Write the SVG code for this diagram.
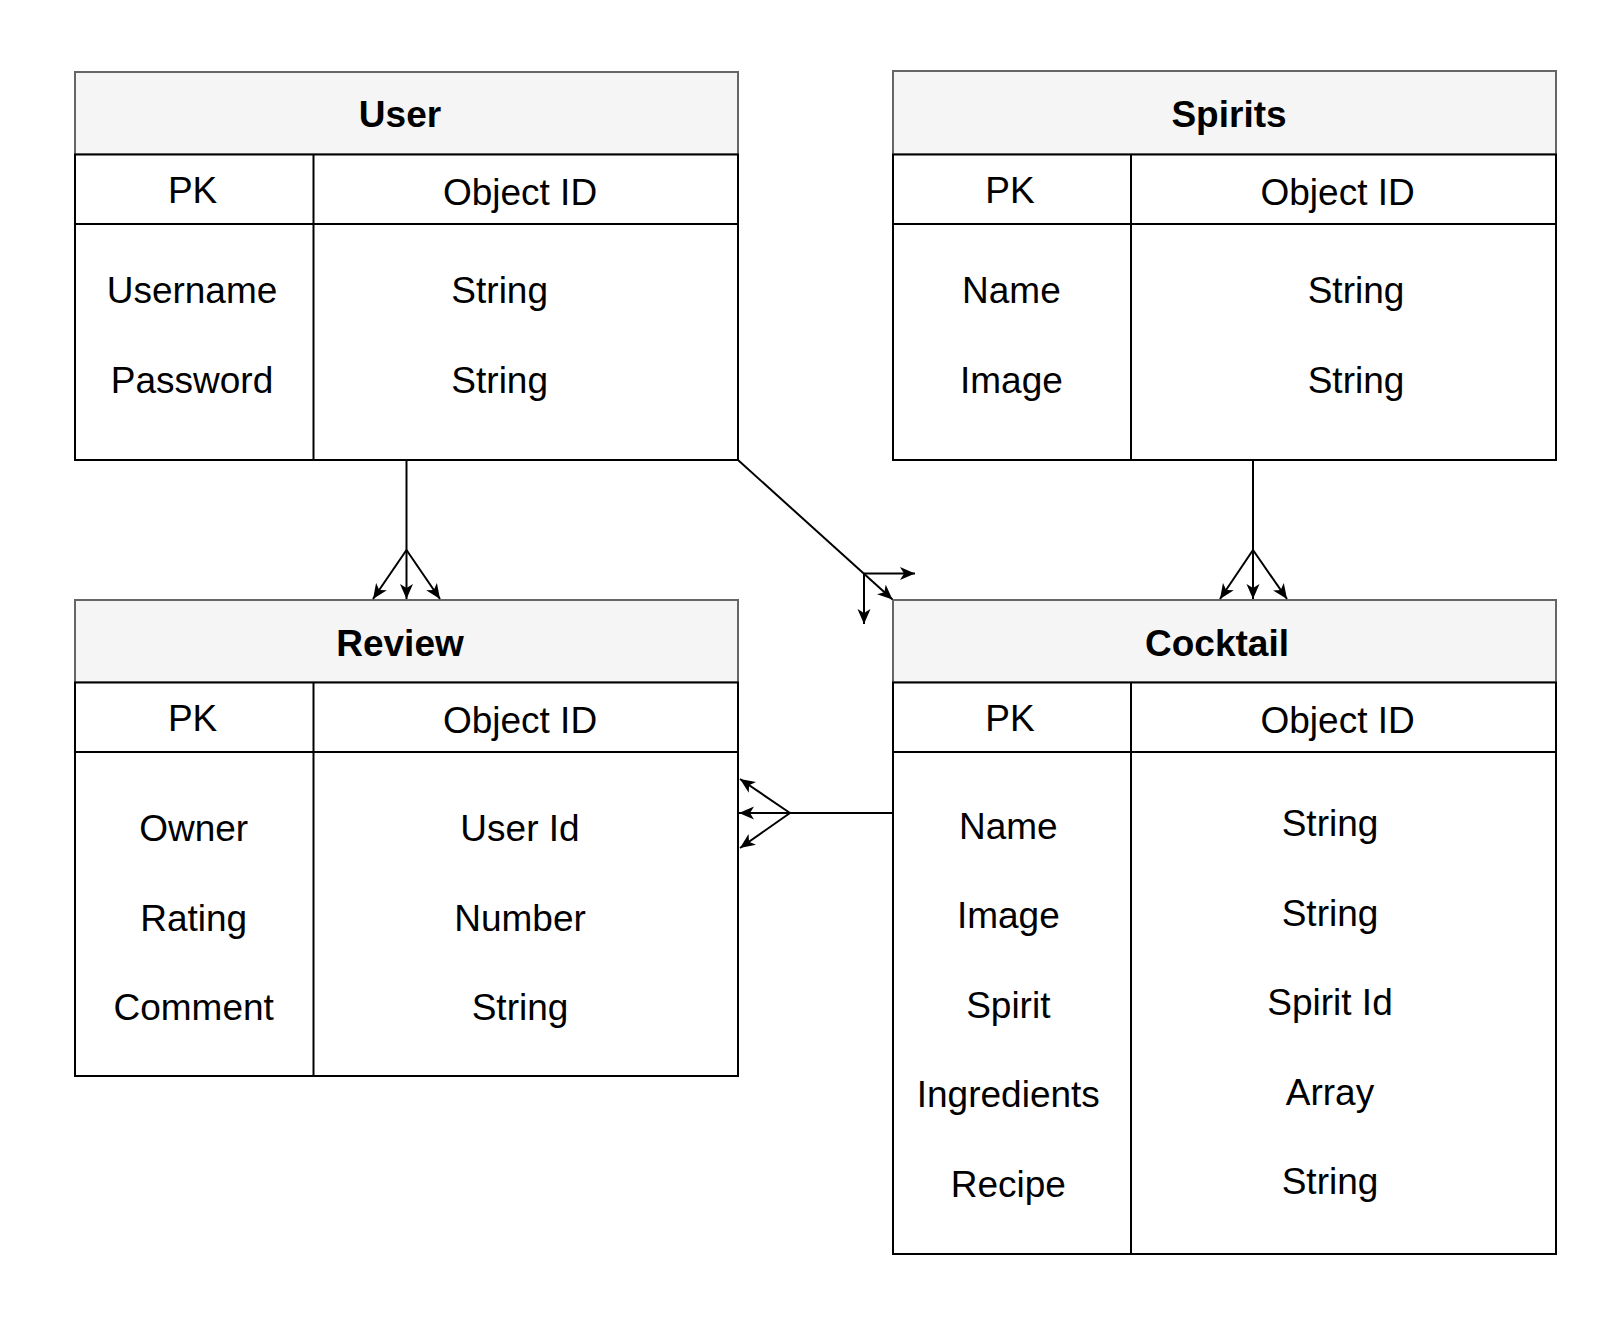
<svg xmlns="http://www.w3.org/2000/svg" width="1624" height="1320" viewBox="0 0 1624 1320">
<style>
.hdr{fill:#f5f5f5;stroke:#666666;stroke-width:2}
.body{fill:#ffffff;stroke:#000000;stroke-width:2}
.ln{stroke:#000000;stroke-width:2;fill:none}
text{font-family:"Liberation Sans",Arial,Helvetica,sans-serif;font-size:37px;fill:#000000;text-anchor:middle}
.title{font-weight:bold}
.edge{stroke:#000000;stroke-width:2;fill:none}
.arr{marker-end:url(#arrow)}
</style>
<defs>
<marker id="arrow" markerUnits="userSpaceOnUse" markerWidth="16" markerHeight="14" refX="15" refY="7" orient="auto" viewBox="0 0 16 14">
<path d="M0,0.5 L15,7 L0,13.5 L4,7 Z" fill="#000000"/>
</marker>
</defs>

<g id="user">
<rect class="hdr" x="75" y="72" width="663" height="82.5"/>
<rect class="body" x="75" y="154.5" width="663" height="305.5"/>
<line class="ln" x1="75" y1="224" x2="738" y2="224"/>
<line class="ln" x1="313.5" y1="154.5" x2="313.5" y2="460"/>
<text class="title" x="400" y="127">User</text>
<text x="192.6" y="202.5">PK</text>
<text x="520" y="205">Object ID</text>
<text x="192" y="303">Username</text>
<text x="192" y="392.5">Password</text>
<text x="499.7" y="303">String</text>
<text x="499.7" y="392.5">String</text>
</g>

<g id="spirits">
<rect class="hdr" x="893" y="71" width="663" height="83.5"/>
<rect class="body" x="893" y="154.5" width="663" height="305.5"/>
<line class="ln" x1="893" y1="224" x2="1556" y2="224"/>
<line class="ln" x1="1131" y1="154.5" x2="1131" y2="460"/>
<text class="title" x="1229" y="127">Spirits</text>
<text x="1010" y="202.5">PK</text>
<text x="1337.6" y="205">Object ID</text>
<text x="1011.4" y="303">Name</text>
<text x="1011.4" y="392.5">Image</text>
<text x="1356" y="303">String</text>
<text x="1356" y="392.5">String</text>
</g>

<g id="review">
<rect class="hdr" x="75" y="600" width="663" height="82.5"/>
<rect class="body" x="75" y="682.5" width="663" height="393.5"/>
<line class="ln" x1="75" y1="752" x2="738" y2="752"/>
<line class="ln" x1="313.5" y1="682.5" x2="313.5" y2="1076"/>
<text class="title" x="400" y="656">Review</text>
<text x="192.6" y="731">PK</text>
<text x="520" y="733">Object ID</text>
<text x="193.7" y="841">Owner</text>
<text x="193.7" y="931">Rating</text>
<text x="193.7" y="1020">Comment</text>
<text x="520" y="841">User Id</text>
<text x="520" y="931">Number</text>
<text x="520" y="1020">String</text>
</g>

<g id="cocktail">
<rect class="hdr" x="893" y="600" width="663" height="82.5"/>
<rect class="body" x="893" y="682.5" width="663" height="571.5"/>
<line class="ln" x1="893" y1="752" x2="1556" y2="752"/>
<line class="ln" x1="1131" y1="682.5" x2="1131" y2="1254"/>
<text class="title" x="1217" y="656">Cocktail</text>
<text x="1010" y="731">PK</text>
<text x="1337.6" y="733">Object ID</text>
<text x="1008.3" y="839">Name</text>
<text x="1008.3" y="928">Image</text>
<text x="1008.3" y="1018">Spirit</text>
<text x="1008.3" y="1107">Ingredients</text>
<text x="1008.3" y="1197">Recipe</text>
<text x="1330" y="836">String</text>
<text x="1330" y="926">String</text>
<text x="1330" y="1015">Spirit Id</text>
<text x="1330" y="1105">Array</text>
<text x="1330" y="1194">String</text>
</g>

<g id="connectors">
<path class="edge" d="M406.5,460 L406.5,550"/>
<path class="edge arr" d="M406.5,550 L406.5,599"/>
<path class="edge arr" d="M406.5,550 L373,599"/>
<path class="edge arr" d="M406.5,550 L440,599"/>

<path class="edge" d="M1253,460 L1253,550"/>
<path class="edge arr" d="M1253,550 L1253,599"/>
<path class="edge arr" d="M1253,550 L1220,599"/>
<path class="edge arr" d="M1253,550 L1287,599"/>

<path class="edge" d="M893,813 L790,813"/>
<path class="edge arr" d="M790,813 L739,813"/>
<path class="edge arr" d="M790,813 L740,779"/>
<path class="edge arr" d="M790,813 L740,848"/>

<path class="edge arr" d="M738,460 L892.5,599.5"/>
<path class="edge arr" d="M864,573.5 L915,573.5"/>
<path class="edge arr" d="M864,573.5 L864,624"/>
</g>
</svg>
